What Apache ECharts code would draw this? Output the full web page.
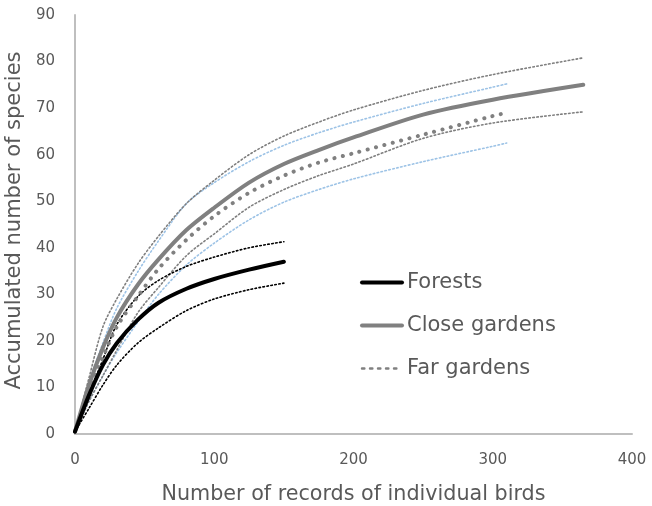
<!DOCTYPE html>
<html>
<head>
<meta charset="utf-8">
<script src="https://cdn.jsdelivr.net/npm/echarts@6/dist/echarts.min.js"></script>
<style>
  html, body { margin: 0; padding: 0; background: #fff; }
  #chart { width: 652px; height: 506px; }
</style>
</head>
<body>
<div id="chart"></div>
<script>
// Forests (records up to 150)
var forestX  = [0, 10, 20, 30, 45, 60, 80, 100, 125, 150]
var forestY  = [0.5, 8.3, 14.8, 19.5, 24.5, 28.2, 31.2, 33.3, 35.3, 37]
var forestUp = [0.5, 8.5, 16, 23.5, 29.5, 33, 36, 38, 40, 41.3]
var forestLo = [0.5, 5.5, 10.5, 14.8, 19.5, 22.8, 26.5, 29, 31, 32.4]

// Close gardens (records up to 365)
var closeX  = [0, 10, 20, 30, 45, 60, 80, 100, 125, 150, 175, 200, 250, 300, 365]
var closeY  = [0.5, 10.5, 18.5, 25, 32, 37.5, 43.8, 48.6, 54, 58, 61, 63.7, 68.6, 71.8, 75]
var closeUp = [0.5, 12, 23, 29, 36.5, 42.5, 49.5, 54.5, 60, 64, 67, 69.6, 73.8, 77.2, 80.8]
var closeLo = [0.5, 7, 12.5, 18, 26, 31.5, 38.3, 43, 48.7, 52.5, 55.5, 58, 63.5, 66.8, 69.2]

// Far gardens (records up to 310)
var farX  = [0, 10, 20, 30, 45, 60, 80, 100, 125, 150, 175, 200, 250, 300, 310]
var farY  = [0.5, 9, 16.5, 23, 29.5, 35.5, 41.7, 46.8, 51.8, 55.5, 58.3, 60.3, 64.3, 68.3, 69]
var farUp = [0.5, 11, 19.5, 27, 34.8, 41.5, 49.5, 54, 58.5, 62, 64.7, 67, 71, 74.5, 75.2]
var farLo = [0.5, 7, 12.5, 17.5, 24, 30, 36.3, 41, 46, 49.8, 52.5, 54.8, 58.5, 61.8, 62.5]

var xTicks = [0, 100, 200, 300, 400]
var yTicks = [0, 10, 20, 30, 40, 50, 60, 70, 80, 90]

function pairs(xs, ys) {
  return xs.map(function (x, i) { return [x, ys[i]] })
}

function curve(name, xs, ys, color, width, dash, z) {
  return {
    name: name,
    type: 'line',
    data: pairs(xs, ys),
    smooth: 0.3,
    showSymbol: false,
    symbol: 'none',
    z: z,
    lineStyle: { color: color, width: width, type: dash, cap: 'round' },
    itemStyle: { color: color }
  }
}

var thinDot = [1.5, 2.5]
var txt = '#595959'
var font = 'DejaVu Sans'

var chart = echarts.init(document.getElementById('chart'))
chart.setOption({
  animation: false,
  grid: { left: 75, right: 20, top: 15, bottom: 72, outerBoundsMode: 'none', containLabel: false },
  legend: {
    data: [
      { name: 'Forests', lineStyle: { width: 4 } },
      { name: 'Close gardens', lineStyle: { width: 4 } },
      { name: 'Far gardens', lineStyle: { width: 2.4, type: [2.4, 5.6] } }
    ],
    orient: 'vertical',
    left: 360,
    top: 272,
    padding: 0,
    itemWidth: 40,
    itemHeight: 21,
    itemGap: 22,
    itemStyle: { opacity: 0 },
    textStyle: { color: txt, fontSize: 21, fontFamily: font }
  },
  xAxis: {
    type: 'value',
    min: 0, max: 400, interval: 100,
    name: 'Number of records of individual birds',
    nameLocation: 'middle',
    nameGap: 50,
    nameTextStyle: { color: txt, fontSize: 20.7, fontFamily: font },
    axisLine: { show: true, lineStyle: { color: '#bfbfbf', width: 2 } },
    axisTick: { show: false },
    splitLine: { show: false },
    axisLabel: {
      color: txt, fontSize: 15, margin: 19, fontFamily: font,
      formatter: function (v) { return xTicks.indexOf(v) >= 0 ? String(v) : '' }
    }
  },
  yAxis: {
    type: 'value',
    min: 0, max: 90, interval: 10,
    name: 'Accumulated number of species',
    nameLocation: 'middle',
    nameGap: 43,
    nameTextStyle: { color: txt, fontSize: 21, fontFamily: font, padding: [0, 0, 0, 8] },
    axisLine: { show: true, lineStyle: { color: '#bfbfbf', width: 2 } },
    axisTick: { show: false },
    splitLine: { show: false },
    axisLabel: {
      color: txt, fontSize: 15, margin: 20, fontFamily: font,
      formatter: function (v) { return yTicks.indexOf(v) >= 0 ? String(v) : '' }
    }
  },
  series: [
    curve('Far upper', farX, farUp, '#9dc3e6', 1.6, thinDot, 2),
    curve('Far lower', farX, farLo, '#9dc3e6', 1.6, thinDot, 2),
    curve('Close upper', closeX, closeUp, '#7f7f7f', 1.6, thinDot, 2),
    curve('Close lower', closeX, closeLo, '#7f7f7f', 1.6, thinDot, 2),
    curve('Forest upper', forestX, forestUp, '#000000', 1.6, thinDot, 2),
    curve('Forest lower', forestX, forestLo, '#000000', 1.6, thinDot, 2),
    curve('Far gardens', farX, farY, '#808080', 4, [0.1, 8.5], 3),
    curve('Close gardens', closeX, closeY, '#808080', 4, 'solid', 4),
    curve('Forests', forestX, forestY, '#000000', 4, 'solid', 5)
  ]
})
</script>
</body>
</html>
